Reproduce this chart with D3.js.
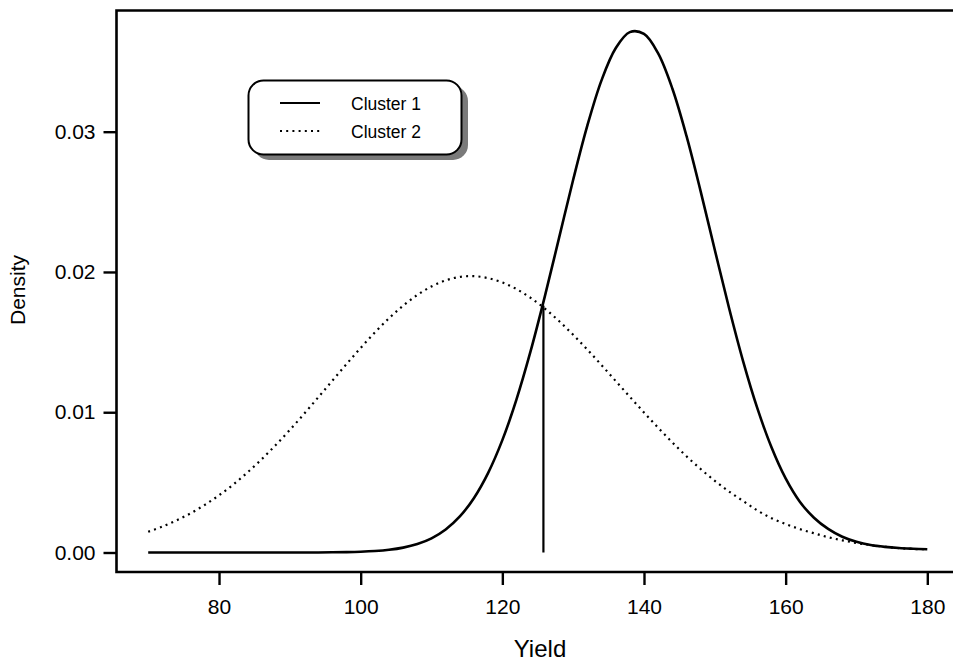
<!DOCTYPE html>
<html>
<head>
<meta charset="utf-8">
<script src="https://cdn.jsdelivr.net/npm/d3@7"></script>
<style>
  body { margin: 0; background: #fff; }
  text { font-family: "Liberation Sans", Arial, sans-serif; fill: #000; }
</style>
</head>
<body>
<svg id="chart" width="953" height="664"></svg>
<script>
(function() {

    // yield grid the densities were read at
    var yields = [70,72,74,76,78,80,82,84,86,88,90,92,94,96,98,100,102,104,106,108,110,
                  112,114,116,118,120,122,124,126,128,130,132,134,136,138,140,142,144,146,
                  148,150,152,154,156,158,160,162,164,166,168,170,172,174,176,178,180]

    // Cluster 1 density (solid)
    var cluster1 = [0,0,0,0,0,0,0,0,0,0,0,0.000002,0.000005,0.000013,0.000027,0.000054,
                    0.000104,0.000193,0.000348,0.000604,0.00101,0.00164,0.00257,0.00389,
                    0.00568,0.00801,0.01092,0.01437,0.01826,0.02241,0.02657,0.03043,0.03366,
                    0.03595,0.03710,0.03697,0.03558,0.03308,0.02970,0.02575,0.02157,0.01745,
                    0.01363,0.01029,0.00750,0.00528,0.00362,0.00248,0.00168,0.00112,0.00076,
                    0.00053,0.00040,0.00032,0.00027,0.00023]

    // Cluster 2 density (dotted)
    var cluster2 = [0.00148,0.00185,0.00229,0.00280,0.00340,0.00408,0.00484,0.00570,0.00664,
                    0.00766,0.00874,0.00988,0.01106,0.01225,0.01343,0.01459,0.01569,0.01670,
                    0.01760,0.01836,0.01897,0.01940,0.01965,0.01970,0.01956,0.01925,0.01878,
                    0.01815,0.01739,0.01650,0.01552,0.01447,0.01336,0.01223,0.01110,0.00998,
                    0.00889,0.00785,0.00686,0.00595,0.00511,0.00435,0.00367,0.00300,0.00245,
                    0.00203,0.00167,0.00137,0.00109,0.00087,0.00068,0.00053,0.00041,0.00031,
                    0.00025,0.00023]

    // cut point between the two clusters and the density where the curves cross
    var cutYield = 125.8
    var cutDensity = 0.0176

    var xTicks = [80, 100, 120, 140, 160, 180]
    var yTicks = [0, 0.01, 0.02, 0.03]
    var legendLabels = ["Cluster 1", "Cluster 2"]

    var svg = d3.select("#chart")

    var x = d3.scaleLinear().domain([70, 180]).range([148.2, 927.3])
    var y = d3.scaleLinear().domain([0, 0.03]).range([552.5, 131.7])

    var frameLeft = 116.5, frameTop = 10.5, frameBottom = 572

    // plot frame (right edge runs off the page)
    svg.append("path")
        .attr("d", "M960," + frameTop + "H" + frameLeft + "V" + frameBottom + "H960")
        .attr("fill", "none")
        .attr("stroke", "black")
        .attr("stroke-width", 2.6)

    // axes: only ticks + labels, the frame draws the lines
    var xAxis = svg.append("g")
        .attr("transform", "translate(0," + frameBottom + ")")
        .call(d3.axisBottom(x).tickValues(xTicks).tickSize(13).tickPadding(14).tickFormat(d3.format("d")))
    var yAxis = svg.append("g")
        .attr("transform", "translate(" + frameLeft + ",0)")
        .call(d3.axisLeft(y).tickValues(yTicks).tickSize(13).tickPadding(8).tickFormat(d3.format(".2f")))

    ;[xAxis, yAxis].forEach(function(g) {
        g.select(".domain").remove()
        g.selectAll(".tick line").attr("stroke", "black").attr("stroke-width", 2.4)
        g.selectAll(".tick text")
            .style("font-family", "'Liberation Sans', Arial, sans-serif")
            .style("font-size", "21px")
            .attr("fill", "black")
    })

    svg.append("text")
        .attr("x", 540).attr("y", 657)
        .attr("text-anchor", "middle")
        .style("font-size", "24px")
        .text("Yield")

    svg.append("text")
        .attr("transform", "translate(25,290) rotate(-90)")
        .attr("text-anchor", "middle")
        .style("font-size", "21px")
        .text("Density")

    var line = d3.line()
        .x(function(d) { return x(d[0]) })
        .y(function(d) { return y(d[1]) })
        .curve(d3.curveCatmullRom.alpha(0.5))

    svg.append("path")
        .datum(d3.zip(yields, cluster2))
        .attr("d", line)
        .attr("fill", "none")
        .attr("stroke", "black")
        .attr("stroke-width", 2.2)
        .attr("stroke-dasharray", "2,4.2")

    svg.append("path")
        .datum(d3.zip(yields, cluster1))
        .attr("d", line)
        .attr("fill", "none")
        .attr("stroke", "black")
        .attr("stroke-width", 2.6)

    // vertical cut line
    svg.append("line")
        .attr("x1", x(cutYield)).attr("x2", x(cutYield))
        .attr("y1", y(0)).attr("y2", y(cutDensity))
        .attr("stroke", "black")
        .attr("stroke-width", 2.2)

    // legend box with drop shadow
    var legend = svg.append("g")
    legend.append("rect")
        .attr("x", 254).attr("y", 86).attr("width", 214).attr("height", 74)
        .attr("rx", 15)
        .attr("fill", "#7a7a7a")
    legend.append("rect")
        .attr("x", 248.5).attr("y", 80.5).attr("width", 213).attr("height", 74)
        .attr("rx", 15)
        .attr("fill", "white")
        .attr("stroke", "black")
        .attr("stroke-width", 2)

    var dashes = [null, "2,4.2"]
    legendLabels.forEach(function(label, i) {
        var ly = 103 + i * 28
        legend.append("line")
            .attr("x1", 280).attr("x2", 320)
            .attr("y1", ly).attr("y2", ly)
            .attr("stroke", "black")
            .attr("stroke-width", i == 0 ? 2 : 2.2)
            .attr("stroke-dasharray", dashes[i])
        legend.append("text")
            .attr("x", 351).attr("y", ly + 6.5)
            .style("font-size", "17.5px")
            .text(label)
    })
})();
</script>
</body>
</html>
